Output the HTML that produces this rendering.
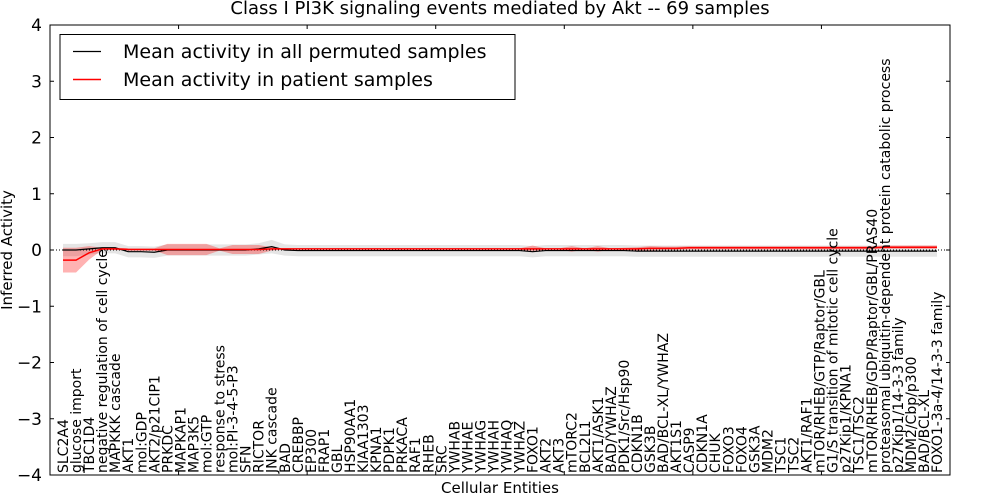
<!DOCTYPE html>
<html><head><meta charset="utf-8"><style>
body{margin:0;background:#fff;}
svg{display:block;font-family:"DejaVu Sans","Liberation Sans",sans-serif;}
</style></head><body>
<svg id="chart" width="1000" height="500" viewBox="0 0 1000 500"></svg>
<script>
const categories=["SLC2A4","glucose import","TBC1D4","negative regulation of cell cycle","MAPKKK cascade","AKT1","mol:GDP","AKT2/p21CIP1","PRKDC","MAPKAP1","MAP3K5","mol:GTP","response to stress","mol:PI-3-4-5-P3","SFN","RICTOR","JNK cascade","BAD","CREBBP","EP300","FRAP1","GBL","HSP90AA1","KIAA1303","KPNA1","PDPK1","PRKACA","RAF1","RHEB","SRC","YWHAB","YWHAE","YWHAG","YWHAH","YWHAQ","YWHAZ","FOXO1","AKT2","AKT3","mTORC2","BCL2L1","AKT1/ASK1","BAD/YWHAZ","PDK1/Src/Hsp90","CDKN1B","GSK3B","BAD/BCL-XL/YWHAZ","AKT1S1","CASP9","CDKN1A","CHUK","FOXO3","FOXO4","GSK3A","MDM2","TSC1","TSC2","AKT1/RAF1","mTOR/RHEB/GTP/Raptor/GBL","G1/S transition of mitotic cell cycle","p27Kip1/KPNA1","TSC1/TSC2","mTOR/RHEB/GDP/Raptor/GBL/PRAS40","proteasomal ubiquitin-dependent protein catabolic process","p27Kip1/14-3-3 family","MDM2/Cbp/p300","BAD/BCL-XL","FOXO1-3a-4/14-3-3 family"];
const permMean=[0,0,0.02,0.04,0.04,-0.03,-0.03,-0.04,0,0,0,0,0,0,0,0.02,0.06,0,-0.01,-0.01,-0.01,-0.01,-0.01,-0.01,-0.01,-0.01,-0.01,-0.01,-0.01,-0.01,-0.01,-0.01,-0.01,-0.01,-0.01,-0.01,-0.03,-0.01,-0.01,-0.01,-0.01,-0.01,-0.01,-0.01,-0.02,-0.02,-0.02,-0.02,-0.02,-0.02,-0.02,-0.02,-0.02,-0.02,-0.02,-0.02,-0.02,-0.02,-0.02,-0.02,-0.02,-0.02,-0.02,-0.02,-0.02,-0.02,-0.02,-0.02];
const permSd=[0.11,0.11,0.1,0.1,0.1,0.1,0.1,0.1,0.1,0.1,0.1,0.1,0.1,0.1,0.1,0.1,0.12,0.1,0.1,0.1,0.1,0.1,0.1,0.1,0.1,0.1,0.1,0.1,0.1,0.1,0.1,0.1,0.1,0.1,0.1,0.1,0.1,0.1,0.1,0.1,0.1,0.1,0.1,0.1,0.1,0.1,0.1,0.1,0.1,0.1,0.1,0.1,0.1,0.1,0.1,0.1,0.1,0.1,0.1,0.1,0.1,0.1,0.1,0.1,0.1,0.1,0.1,0.1];
const patMean=[-0.18,-0.18,-0.05,0.02,0.02,0.01,0.01,0.01,0.01,0.01,0.01,0.01,0.01,0.01,0.01,0.01,0.02,0.02,0.02,0.02,0.02,0.02,0.02,0.02,0.02,0.02,0.02,0.02,0.02,0.02,0.02,0.02,0.02,0.02,0.02,0.02,0.02,0.02,0.02,0.02,0.02,0.02,0.02,0.02,0.02,0.03,0.03,0.03,0.04,0.04,0.04,0.04,0.04,0.04,0.04,0.04,0.04,0.04,0.04,0.04,0.04,0.04,0.04,0.05,0.05,0.05,0.05,0.05];
const patSd=[0.22,0.22,0.12,0.02,0.02,0.02,0.02,0.02,0.1,0.1,0.1,0.1,0.02,0.08,0.08,0.08,0.03,0.01,0.01,0.01,0.01,0.01,0.01,0.01,0.01,0.01,0.01,0.01,0.01,0.01,0.01,0.01,0.01,0.01,0.01,0.01,0.06,0.01,0.01,0.05,0.01,0.05,0.01,0.02,0.03,0.04,0.03,0.03,0.03,0.03,0.03,0.03,0.03,0.03,0.03,0.03,0.03,0.03,0.03,0.03,0.03,0.03,0.03,0.03,0.03,0.03,0.03,0.03];
const yTicks=[-4,-3,-2,-1,0,1,2,3,4];
const yLabels=["\u22124","\u22123","\u22122","\u22121","0","1","2","3","4"];

const NS="http://www.w3.org/2000/svg";
const svg=document.getElementById('chart');
const L=50,R=950,T=25,B=475;
const X=i=>63+i*(874/(categories.length-1));
const Y=v=>250-v*56.25;
function mk(tag,attrs,parent){const e=document.createElementNS(NS,tag);for(const k in attrs)e.setAttribute(k,attrs[k]);(parent||svg).appendChild(e);return e;}
function band(mean,sd){let top=mean.map((m,i)=>X(i)+','+Y(m+sd[i]));let bot=mean.map((m,i)=>X(i)+','+Y(m-sd[i])).reverse();return top.concat(bot).join(' ');}
function line(mean){return mean.map((m,i)=>X(i)+','+Y(m)).join(' ');}

const g1=mk('polygon',{points:band(permMean,permSd),fill:'#000','fill-opacity':0.1});

const g2=mk('polygon',{points:band(patMean,patSd),fill:'#f00','fill-opacity':0.3});

const z=mk('line',{x1:L,x2:R,y1:Y(0),y2:Y(0),stroke:'#000','stroke-dasharray':'1,2','stroke-width':1});

const l1=mk('polyline',{points:line(permMean),fill:'none',stroke:'#000','stroke-width':1.2});

const l2=mk('polyline',{points:line(patMean),fill:'none',stroke:'#f00','stroke-width':1.5});


yTicks.forEach((v,i)=>{
  mk('line',{x1:L,x2:L+4,y1:Y(v),y2:Y(v),stroke:'#000'});
  mk('line',{x1:R,x2:R-4,y1:Y(v),y2:Y(v),stroke:'#000'});
  const t=mk('text',{x:L-8,y:Y(v)+6,'text-anchor':'end','font-size':17});
  t.textContent=yLabels[i];
  
  
});
for(let k=1;k<7;k++){const x=L+k*900/7;mk('line',{x1:x,x2:x,y1:T,y2:T+4,stroke:'#000'});mk('line',{x1:x,x2:x,y1:B,y2:B-4,stroke:'#000'});}
categories.forEach((c,i)=>{
  const t=mk('text',{transform:`translate(${X(i)+5},${B-2}) rotate(-90)`,'font-size':14});
  t.textContent=c;
  
  
});
const fr=mk('rect',{x:L,y:T,width:R-L,height:B-T,fill:'none',stroke:'#000','stroke-width':1});

</script>
<svg style="position:absolute;left:0;top:0" width="1000" height="500">
<text x="500" y="14" text-anchor="middle" font-size="18" font-family="DejaVu Sans, Liberation Sans, sans-serif">Class I PI3K signaling events mediated by Akt -- 69 samples</text>
<text x="500" y="493" text-anchor="middle" font-size="15" font-family="DejaVu Sans, Liberation Sans, sans-serif">Cellular Entities</text>
<text transform="translate(12,250) rotate(-90)" text-anchor="middle" font-size="15" font-family="DejaVu Sans, Liberation Sans, sans-serif">Inferred Activity</text>
<g font-family="DejaVu Sans, Liberation Sans, sans-serif">
<rect x="60" y="34.5" width="455" height="65" fill="#fff" stroke="#000"/>
<line x1="73" x2="101" y1="51.5" y2="51.5" stroke="#000" stroke-width="1.2"/>
<text x="123" y="58" font-size="19">Mean activity in all permuted samples</text>
<line x1="73" x2="101" y1="79.5" y2="79.5" stroke="#f00" stroke-width="1.5"/>
<text x="123" y="86" font-size="19">Mean activity in patient samples</text>
</g>
</svg>
</body></html>
